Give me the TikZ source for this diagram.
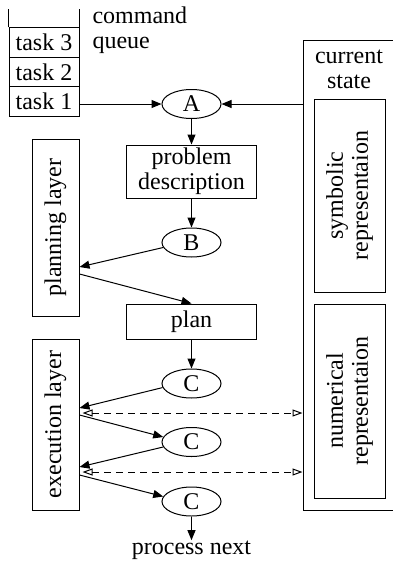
\documentclass[tikz,border=0pt]{standalone}
\usepackage{fontspec}
\setmainfont{Liberation Serif}
\usetikzlibrary{arrows.meta,calc,shapes.geometric}

\begin{document}
\begin{tikzpicture}[x=1pt,y=-1pt,line width=1pt,
		every node/.style={font=\fontsize{24}{25}\selectfont,inner sep=0pt},
		box/.style={draw,rectangle},
		cell/.style={box,minimum width=70,minimum height=29.5},
		event/.style={draw,ellipse,minimum width=59,minimum height=29},
		flow/.style={-{Triangle[length=10pt,width=8pt]}},
		sense/.style={dash pattern=on 7pt off 5pt,{Triangle[open,length=10pt,width=7pt]}-{Triangle[open,length=10pt,width=7pt]}}]
		%%%%% START %%%%%
		
		\useasboundingbox (0,0) rectangle (393,563);
		
		% command queue
		\node[cell] (task3) at (44,42.5) {task 3};
		\node[cell] (task2) at (44,72) {task 2};
		\node[cell] (task1) at (44,101.5) {task 1};
		\draw (task3.north west) -- ++(0,-18);
		\draw (task3.north east) -- ++(0,-18);
		\node[anchor=west,align=left] (queue) at (92,30) {command\\queue};
		
		% current state
		\node[box,anchor=north west,minimum width=94,minimum height=470] (world) at (302.5,40) {};
		\node[align=center] (worldlbl) at (349,69) {current\\state};
		\node[box,rotate=90,align=center,minimum width=193,minimum height=71] (sym) at (349.5,195.5) {symbolic\\representaion};
		\node[box,rotate=90,align=center,minimum width=194,minimum height=71] (num) at (349.5,401) {numerical\\representaion};
		
		% planning
		\node[event] (A) at (191.5,104) {A};
		\node[box,minimum width=130,minimum height=53,align=center] (prob) at (191.5,171.5) {problem\\description};
		\node[event] (B) at (191.5,242.5) {B};
		\node[box,minimum width=47,minimum height=177] (planning) at (55.5,227.5) {\rotatebox{90}{planning layer}};
		\node[box,minimum width=130,minimum height=35] (plan) at (191.5,321.5) {plan};
		
		% execution
		\node[event] (C1) at (191.5,383.5) {C};
		\node[event] (C2) at (191.5,442) {C};
		\node[event] (C3) at (191.5,501.5) {C};
		\node[box,minimum width=47,minimum height=171] (execution) at (55.5,424.5) {\rotatebox{90}{execution layer}};
		\node (next) at (191.5,550) {process next};
		
		\draw[flow] (task1.east |- A) -- (A);
		\draw[flow] (world.west |- A) -- (A);
		\draw[flow] (A) -- (prob);
		\draw[flow] (prob) -- (B);
		\draw[flow] (B.190) -- ($(planning.east)+(0,39.5)$);
		\draw[flow] ($(planning.east)+(0,46.5)$) -- (plan.north);
		\draw[flow] (plan) -- (C1);
		\draw[flow] (C1.188) -- ($(execution.east)+(0,-16.5)$);
		\draw[flow] ($(execution.east)+(0,-9.5)$) -- (C2.170);
		\draw[flow] (C2.190) -- ($(execution.east)+(0,42.5)$);
		\draw[flow] ($(execution.east)+(0,50.5)$) -- (C3.170);
		\draw[flow] (C3) -- (next);
		
		\coordinate (s1) at ($(execution.east)+(3,-11.5)$);
		\coordinate (s2) at ($(execution.east)+(3,47.5)$);
		\draw[sense] (s1) -- (s1 -| world.west);
		\draw[sense] (s2) -- (s2 -| world.west);
		
		%%%%% END %%%%%
	\end{tikzpicture}
\end{document}
